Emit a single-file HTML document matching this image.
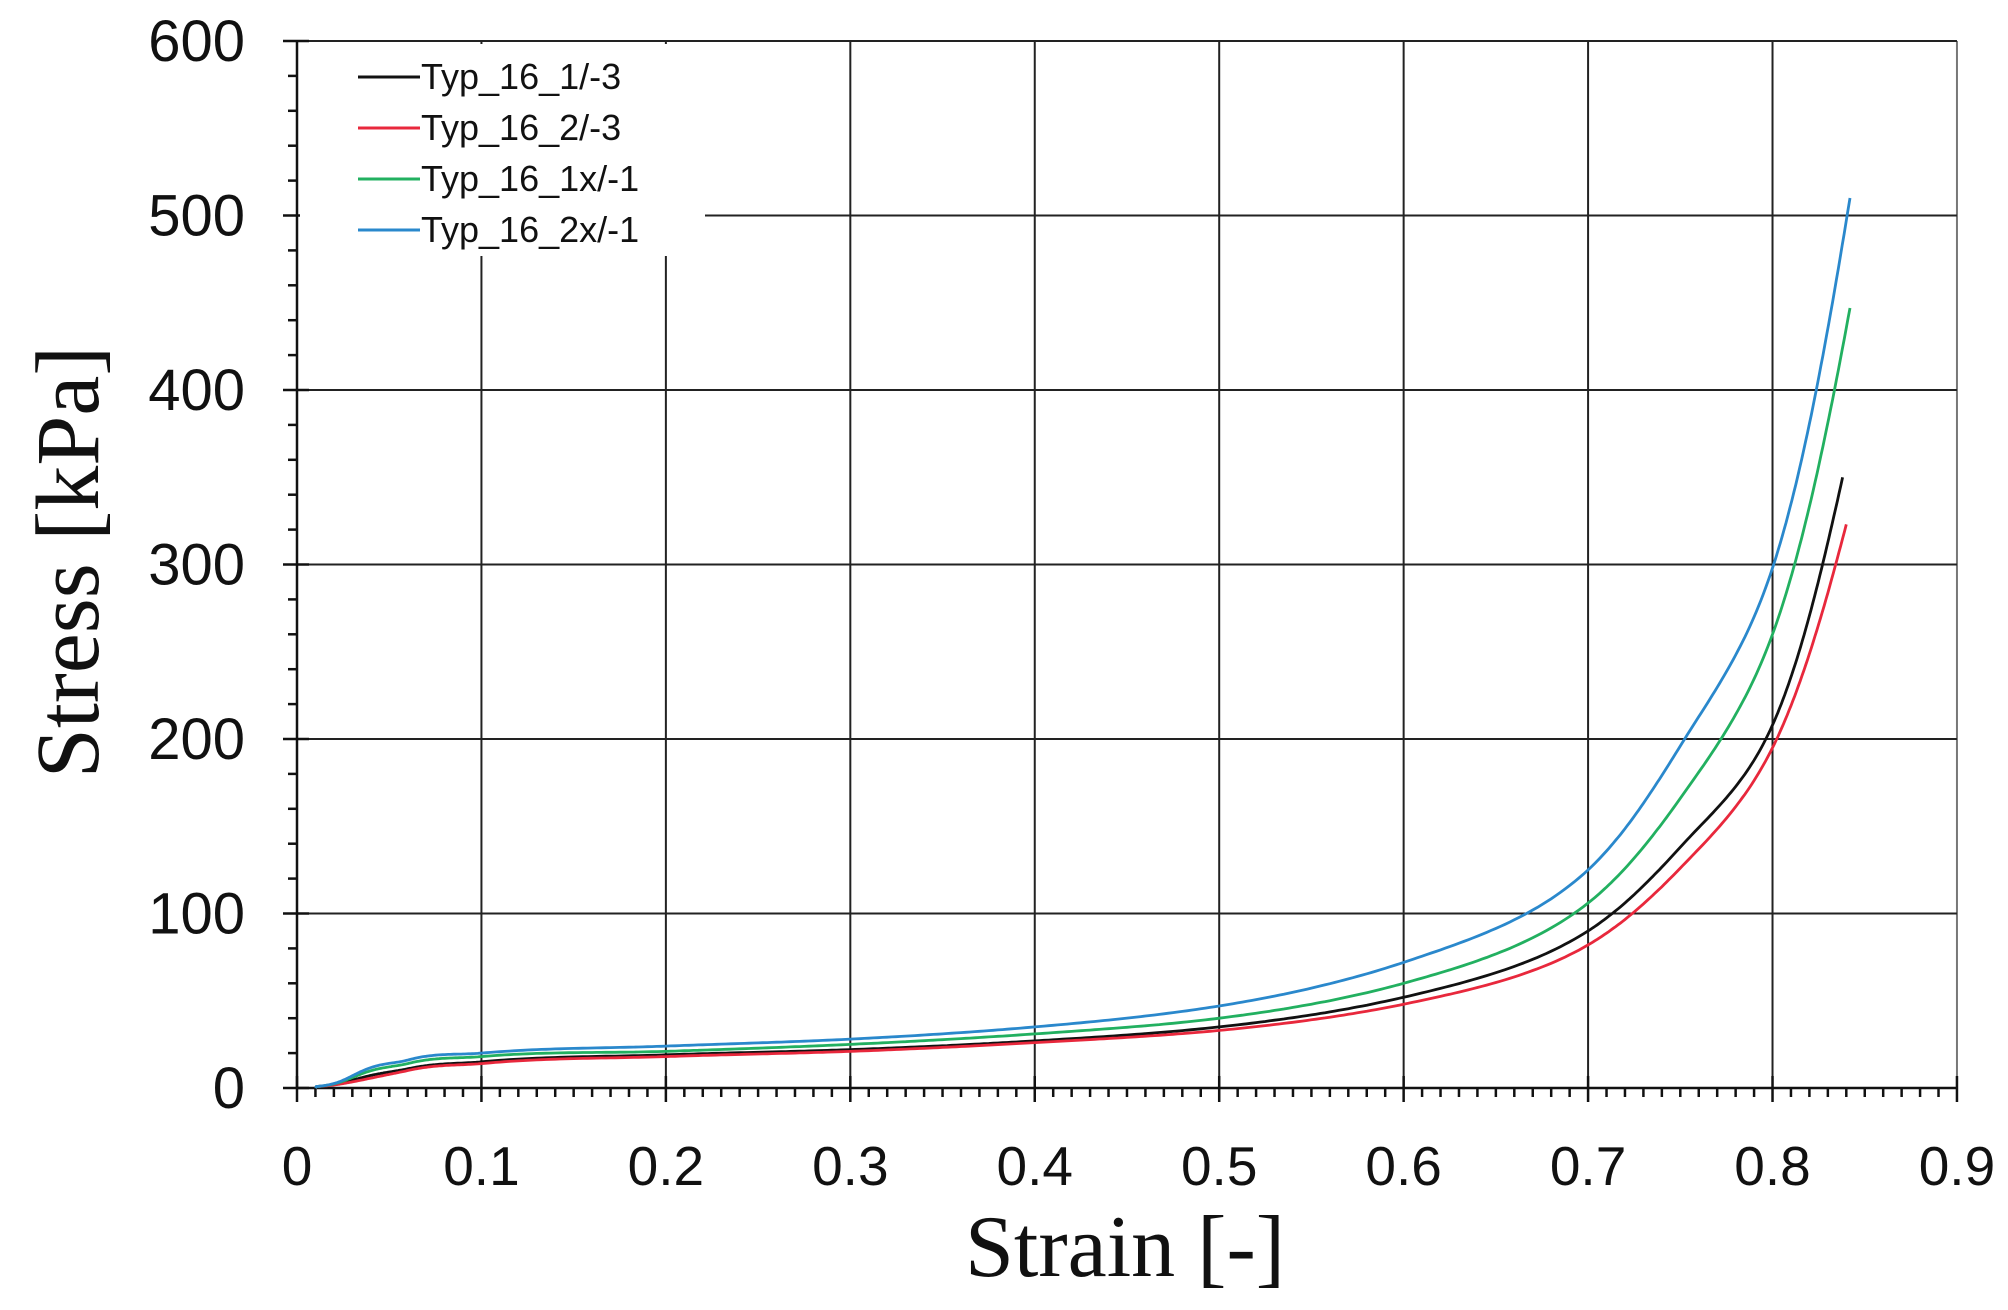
<!DOCTYPE html>
<html><head><meta charset="utf-8"><style>
html,body{margin:0;padding:0;background:#fff;}
svg{display:block;}
</style></head><body>
<svg id="s" width="2008" height="1310" xmlns="http://www.w3.org/2000/svg">
<rect width="2008" height="1310" fill="#fff"/>
<g id="grid" stroke="#222" stroke-width="2"></g>
<g id="ticks" stroke="#111" stroke-width="2.5"></g>
<g id="curves" fill="none" stroke-width="2.8"></g>
<rect x="300" y="44" width="405" height="212" fill="#fff"/>
<g font-family="Liberation Sans, sans-serif" font-size="36" fill="#111">
<line x1="358" y1="77" x2="420" y2="77" stroke="#111" stroke-width="3"/><text x="421" y="89">Typ_16_1/-3</text>
<line x1="358" y1="128" x2="420" y2="128" stroke="#e8283c" stroke-width="3"/><text x="421" y="140">Typ_16_2/-3</text>
<line x1="358" y1="179" x2="420" y2="179" stroke="#22b060" stroke-width="3"/><text x="421" y="191">Typ_16_1x/-1</text>
<line x1="358" y1="230" x2="420" y2="230" stroke="#2a88cc" stroke-width="3"/><text x="421" y="242">Typ_16_2x/-1</text>
</g>
<g id="labels" font-family="Liberation Sans, sans-serif" fill="#111"></g>
<text x="1125" y="1276" text-anchor="middle" font-family="Liberation Serif, serif" font-size="88" fill="#111">Strain [-]</text>
<text transform="translate(98,562) rotate(-90)" text-anchor="middle" font-family="Liberation Serif, serif" font-size="90" fill="#111">Stress [kPa]</text>
</svg>
<script>
const NS="http://www.w3.org/2000/svg";
const X0=297,XS=1844.4,Y0=1088,YS=1047/600;
const px=x=>X0+x*XS, py=y=>Y0-y*YS;
function el(p,t,a,txt){const e=document.createElementNS(NS,t);for(const k in a)e.setAttribute(k,a[k]);if(txt!==undefined)e.textContent=txt;p.appendChild(e);return e;}
const g=document.getElementById('grid'),tk=document.getElementById('ticks'),lb=document.getElementById('labels'),cv=document.getElementById('curves');
for(let i=1;i<=9;i++){el(g,'line',{x1:px(i/10),y1:py(600),x2:px(i/10),y2:Y0,stroke:i==9?'#777':'#222'});}
for(let j=1;j<=6;j++){el(g,'line',{x1:X0,y1:py(j*100),x2:px(0.9),y2:py(j*100)});}
el(tk,'line',{x1:X0,y1:py(600),x2:X0,y2:Y0});
el(tk,'line',{x1:X0,y1:Y0,x2:px(0.9),y2:Y0});
for(let i=0;i<=90;i++){const x=px(i/100);const maj=i%10==0;el(tk,'line',{x1:x,y1:maj?Y0-12:Y0,x2:x,y2:Y0+(maj?14:9)});}
for(let j=0;j<=30;j++){const y=py(j*20);const maj=j%5==0;el(tk,'line',{x1:X0-(maj?14:9),y1:y,x2:maj?X0+12:X0,y2:y});}
for(let i=0;i<=9;i++){el(lb,'text',{x:px(i/10),y:1185,'text-anchor':'middle','font-size':55},i==0?'0':'0.'+i);}
for(let j=0;j<=6;j++){el(lb,'text',{x:245,y:py(j*100)+20,'text-anchor':'end','font-size':58},String(j*100));}
const data=[
['#111',[[0.01,0.8],[0.03,4.5],[0.06,11],[0.1,15],[0.2,19],[0.3,22],[0.4,27],[0.5,35],[0.6,52],[0.7,90],[0.75,138],[0.8,208],[0.838,350]]],
['#e8283c',[[0.01,0.8],[0.03,3.5],[0.06,10],[0.1,14],[0.2,18],[0.3,21],[0.4,26],[0.5,33],[0.6,48],[0.7,82],[0.75,126],[0.8,195],[0.84,323]]],
['#22b060',[[0.01,0.8],[0.03,6],[0.06,14],[0.1,18],[0.2,21],[0.3,25],[0.4,31],[0.5,40],[0.6,60],[0.7,106],[0.75,166],[0.8,260],[0.842,447]]],
['#2a88cc',[[0.01,0.8],[0.03,7],[0.06,16],[0.1,20],[0.2,24],[0.3,28],[0.4,35],[0.5,47],[0.6,72],[0.7,125],[0.75,196],[0.8,298],[0.842,510]]]];
for(const [c,pts] of data){const xs=pts.map(p=>p[0]),ls=pts.map(p=>Math.log(p[1]));const n=xs.length;
const h=[],dd=[];for(let i=0;i<n-1;i++){h.push(xs[i+1]-xs[i]);dd.push((ls[i+1]-ls[i])/h[i]);}
const m=[];for(let i=0;i<n;i++){if(i==0)m.push(dd[0]);else if(i==n-1)m.push(dd[n-2]);else m.push((dd[i-1]*h[i]+dd[i]*h[i-1])/(h[i-1]+h[i]));}
let d='';
for(let i=0;i<n-1;i++){for(let k=0;k<40;k++){const t=k/40;const t2=t*t,t3=t2*t;
const v=(2*t3-3*t2+1)*ls[i]+(t3-2*t2+t)*h[i]*m[i]+(-2*t3+3*t2)*ls[i+1]+(t3-t2)*h[i]*m[i+1];
const x=xs[i]+h[i]*t;let y=Math.exp(v);if(i==0&&k==0)y=0;
d+=(d?' L':'M')+px(x).toFixed(1)+','+py(y).toFixed(1);}}
const L=pts[n-1];d+=' L'+px(L[0]).toFixed(1)+','+py(L[1]).toFixed(1);
el(cv,'path',{d:d,stroke:c});}
</script>
</body></html>
